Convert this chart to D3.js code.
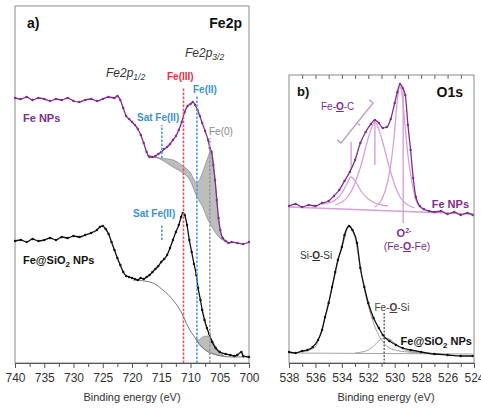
<!DOCTYPE html>
<html>
<head>
<meta charset="utf-8">
<script src="https://cdn.jsdelivr.net/npm/d3@7"></script>
<style>
  body { margin: 0; background: #fff; }
  svg { display: block; font-family: "Liberation Sans", Arial, sans-serif; }
</style>
</head>
<body>
<div id="chart"></div>
<script>
// ---- data: [binding energy (eV), intensity (a.u.)] ----
// panel a, Fe2p
const fe2pFeNPs = [[740,265],[739,264],[738,266],[737,263],[736,265],[735,264],[734,262],[733,264],[732,263],[731,265],[730,262],[729,261],[728,263],[727,264],[726,262],[725,264],[724,266],[723,265],[722.5,267],[722,263],[721.5,255],[721,247],[720.5,244],[720,241],[719.5,238],[719,234],[718.5,228],[718,220],[717.5,211],[717,206],[716.5,206],[716,207],[715.5,209],[715,211],[714.5,214],[714,216],[713.5,219],[713,223],[712.5,227],[712,233],[711.5,241],[711,251],[710.5,257],[710,259],[709.6,261],[709.2,258],[708.8,253],[708.4,247],[708,240],[707.5,232],[707,223],[706.7,215],[706.4,211],[706.1,198],[705.8,183],[705.5,163],[705.2,145],[704.9,133],[704.5,125],[704,122],[703.5,120],[703,121],[702,120],[701,119],[700,121]];
const fe2pFeNPsFill = [[717.4,208,207],[715.2,205,204],[713.0,203,196],[711.3,197,190],[710.1,191,183],[708.9,180,166],[707.9,191,156],[707.0,206,143],[706.5,213,138],[705.8,183,131],[705.0,133,125],[704.1,123,122],[703.2,120,120]];

const fe2pFeSiO2 = [[740,122],[739,123],[738,121],[737,124],[736,122],[735,123],[734,125],[733,123],[732,126],[731,125],[730,127],[729,126],[728,128],[727,130],[726,133],[725.5,136],[725,137],[724.5,134],[724,129],[723.5,121],[723,113],[722.5,105],[722,98],[721.5,91],[721,87],[720.5,86],[720,85],[719.5,84],[719,83],[718.5,85],[718,84],[717.5,86],[717,88],[716.5,91],[716,94],[715.5,97],[715,101],[714.5,104],[714,108],[713.5,115],[713,123],[712.5,131],[712,138],[711.6,146],[711.3,150],[711,148],[710.6,138],[710.2,123],[709.8,111],[709.4,99],[709,88],[708.7,75],[708.3,63],[708,53],[707.6,43],[707.2,35],[706.8,29],[706.3,21],[705.7,15],[705,11],[704,9],[703.2,8],[702.5,7],[702,8],[701.3,11],[701,7],[700,6]];
const fe2pFeSiO2Bg = [[719.8,83],[716.9,81],[714.7,73],[713.0,63],[711.5,50],[710.4,36],[709.2,25],[707.9,15],[705.5,8],[702.7,6],[700,6]];
const fe2pFeSiO2Fill = [[709.2,25,25],[708.7,23,20],[707.9,26,15],[707.0,27,12],[706.3,23,10],[705.5,14,8],[704.4,8,7]];

// reference lines: [energy, from, to, colour key]
const fe2pMarkers = [[711.2,0,276,"red"],[708.9,0,267,"blue"],[706.7,0,225,"gray"],[714.9,205,238,"blue"],[714.9,123,138,"blue"]];
const fe2pTicks = [740,735,730,725,720,715,710,705,700];

// panel b, O1s
const o1sFeNPs = [[538,157],[537.5,159],[537,156],[536.5,158],[536,157],[535.5,160],[535,162],[534.6,167],[534.2,173],[533.8,182],[533.4,191],[533,203],[532.6,220],[532.2,231],[531.8,239],[531.5,243],[531.2,240],[530.9,235],[530.6,236],[530.3,244],[530,260],[529.8,271],[529.6,279],[529.4,275],[529.2,268],[529,238],[528.8,213],[528.6,185],[528.4,166],[528.1,157],[527.8,154],[527.4,152],[527,151],[526.5,152],[526,149],[525.5,151],[525,148],[524.5,150],[524.1,148]];
const o1sFeNPsC1 = [[535.5,159],[535,160],[534.5,163],[534,170],[533.7,177],[533.3,186],[532.9,180],[532.5,171],[532,164],[531.5,160],[531,158],[530.5,157]];
const o1sFeNPsC2 = [[534.5,158],[534,161],[533.5,167],[533,180],[532.5,200],[532,225],[531.5,241],[531,225],[530.5,200],[530,178],[529.5,164],[529,158],[528.5,155]];
const o1sFeNPsC3 = [[531.5,156],[531,163],[530.5,183],[530.2,208],[530,233],[529.8,263],[529.6,277],[529.4,263],[529.2,235],[529,208],[528.7,181],[528.4,163],[528,155],[527.5,152]];
const o1sFeNPsBg = [[538,156],[524.1,149]];

const o1sFeSiO2 = [[538,11],[537.5,10],[537,12],[536.6,13],[536.2,16],[535.8,23],[535.5,33],[535.27,46],[535,60],[534.74,76],[534.5,91],[534.3,103],[534,116],[533.8,128],[533.45,137],[533.2,133],[532.85,120],[532.6,95],[532.3,76],[532,60],[531.6,45],[531.2,35],[530.9,28],[530.4,22],[529.9,18],[529.4,15],[528.8,13],[528,11],[527,9],[526,8],[525,7],[524.1,7]];
const o1sSiOSi = [[537,11],[536,16],[535.8,22],[535.27,45],[534.74,75],[534.3,102],[534,115],[533.45,136],[533,125],[532.6,95],[532.2,68],[531.8,48],[531.4,33],[531,23],[530.5,16],[530,13],[529,11],[528,10]];
const o1sFeOSi = [[533,10],[532.5,11],[532,13],[531.6,17],[531.2,22],[530.8,25],[530.4,24],[530,20],[529.6,16],[529.2,13],[528.6,11],[528,10]];
const o1sFeSiO2Bg = [[538,10],[524.1,9]];

const o1sMarkers = [[533.3,193,221],[531.5,198,243],[529.36,140,275]];
const o1sBracket = [[534.06,220],[531.64,260]];
const o1sTicks = [538,536,534,532,530,528,526,524];

// ---- drawing ----
const W = 481, H = 408;
const purple = "#7e2f8e", pink = "#d7a0d7";
const colours = {red: "#f0505a", blue: "#4f9be6", gray: "#999999"};

const svg = d3.select("#chart").append("svg").attr("width", W).attr("height", H);

const xa = d3.scaleLinear().domain([740, 700]).range([15, 249]);
const ya = d3.scaleLinear().domain([0, 357]).range([363, 6]);
const xb = d3.scaleLinear().domain([538, 524]).range([289, 474]);
const yb = d3.scaleLinear().domain([0, 288]).range([363, 75]);

function lineOf(x, y) {
  return d3.line().x(d => x(d[0])).y(d => y(d[1])).curve(d3.curveMonotoneX);
}

function panelFrame(x, y) {
  svg.append("rect")
    .attr("x", x.range()[0]).attr("y", y.range()[1])
    .attr("width", x.range()[1] - x.range()[0])
    .attr("height", y.range()[0] - y.range()[1])
    .attr("fill", "none").attr("stroke", "#8a8a8a").attr("stroke-width", 1);
}

function bottomAxis(x, y, major, minor) {
  const g = svg.append("g").attr("transform", `translate(0,${y.range()[0]})`);
  g.call(d3.axisBottom(x).tickValues(minor).tickSize(4).tickFormat(""));
  const m = svg.append("g").attr("transform", `translate(0,${y.range()[0]})`)
    .call(d3.axisBottom(x).tickValues(major).tickSize(5).tickPadding(5).tickFormat(d3.format("d")));
  [g, m].forEach(s => {
    s.select(".domain").attr("stroke", "#555");
    s.selectAll(".tick line").attr("stroke", "#555");
  });
  m.selectAll("text").attr("font-size", 12).attr("fill", "#333")
    .attr("font-family", "'Liberation Sans', Arial, sans-serif");
}

function dataCurve(data, x, y, colour) {
  svg.append("path").datum(data).attr("d", lineOf(x, y)(data))
    .attr("fill", "none").attr("stroke", colour).attr("stroke-width", 1.3);
  svg.append("g").selectAll("circle").data(data).join("circle")
    .attr("cx", d => x(d[0])).attr("cy", d => y(d[1])).attr("r", 1.2)
    .attr("fill", colour);
}

function thinCurve(data, x, y, colour, w) {
  svg.append("path").attr("d", lineOf(x, y)(data))
    .attr("fill", "none").attr("stroke", colour).attr("stroke-width", w || 1);
}

function band(data, x, y) {
  const area = d3.area().x(d => x(d[0])).y0(d => y(d[2])).y1(d => y(d[1])).curve(d3.curveMonotoneX);
  svg.append("path").attr("d", area(data))
    .attr("fill", "#bdbdbd").attr("stroke", "#8d8d8d").attr("stroke-width", 0.8);
}

function label(x, y, text, opts) {
  const o = opts || {};
  return svg.append("text").attr("x", x).attr("y", y)
    .attr("font-size", o.size || 10)
    .attr("font-weight", o.bold ? "bold" : "normal")
    .attr("font-style", o.italic ? "italic" : "normal")
    .attr("text-anchor", o.anchor || "start")
    .attr("fill", o.fill || "#333")
    .text(text);
}

function underlinedO(parent, before, after) {
  parent.append("tspan").text(before);
  parent.append("tspan").attr("font-weight", "bold").attr("text-decoration", "underline").text("O");
  parent.append("tspan").text(after);
}

// panel a
panelFrame(xa, ya);
band(fe2pFeNPsFill, xa, ya);
band(fe2pFeSiO2Fill, xa, ya);
thinCurve(fe2pFeSiO2Bg, xa, ya, "#7a7a7a", 1);

dataCurve(fe2pFeNPs, xa, ya, purple);
dataCurve(fe2pFeSiO2, xa, ya, "#111");

// dashed guides, drawn a bit wide so their colour survives
fe2pMarkers.forEach(m => {
  svg.append("line")
    .attr("x1", xa(m[0])).attr("x2", xa(m[0]))
    .attr("y1", ya(m[1])).attr("y2", ya(m[2]))
    .attr("stroke", colours[m[3]]).attr("stroke-width", 1.6)
    .attr("stroke-dasharray", "2.5,1.5");
});

bottomAxis(xa, ya, fe2pTicks, d3.range(737.5, 700, -5));

label(27, 28, "a)", {size: 14, bold: true, fill: "#111"});
label(242, 28, "Fe2p", {size: 14, bold: true, anchor: "end", fill: "#111"});
const t32 = label(185, 57, "Fe2p", {size: 12, italic: true});
t32.append("tspan").attr("dy", 3).attr("font-size", 8.5).text("3/2");
const t12 = label(106, 77, "Fe2p", {size: 12, italic: true});
t12.append("tspan").attr("dy", 3).attr("font-size", 8.5).text("1/2");
label(167, 80, "Fe(III)", {bold: true, fill: "#e8333e"});
label(193, 93, "Fe(II)", {bold: true, fill: "#3d8fe0"});
label(137, 121, "Sat Fe(II)", {bold: true, fill: "#3d8fe0"});
label(209, 135, "Fe(0)", {fill: "#8a8a8a"});
label(23, 122, "Fe NPs", {size: 11, bold: true, fill: purple});
label(133, 217, "Sat Fe(II)", {bold: true, fill: "#3d8fe0"});
const fs = label(23, 264, "Fe@SiO", {size: 11, bold: true, fill: "#111"});
fs.append("tspan").attr("dy", 3).attr("font-size", 8).text("2");
fs.append("tspan").attr("dy", -3).text(" NPs");
label(132, 401, "Binding energy (eV)", {size: 11, anchor: "middle"});

// panel b
panelFrame(xb, yb);
svg.append("g").attr("transform", `translate(0,${yb.range()[1]})`)
  .call(d3.axisBottom(xb).tickValues(d3.range(537, 524, -1)).tickSize(4).tickFormat(""))
  .call(g => g.select(".domain").remove())
  .call(g => g.selectAll(".tick line").attr("stroke", "#666"));

thinCurve(o1sFeNPsBg, xb, yb, pink, 1.3);
thinCurve(o1sFeNPsC1, xb, yb, pink, 1.3);
thinCurve(o1sFeNPsC2, xb, yb, pink, 1.3);
thinCurve(o1sFeNPsC3, xb, yb, pink, 1.3);
o1sMarkers.forEach(m => {
  svg.append("line")
    .attr("x1", xb(m[0])).attr("x2", xb(m[0]))
    .attr("y1", yb(m[1])).attr("y2", yb(m[2]))
    .attr("stroke", pink).attr("stroke-width", 1.4);
});
// bracket over the Fe-O-C components
{
  const [p, q] = o1sBracket.map(d => [xb(d[0]), yb(d[1])]);
  const dx = q[0] - p[0], dy = q[1] - p[1], len = Math.hypot(dx, dy);
  const nx = -dy / len * 5, ny = dx / len * 5;
  const mid = [(p[0] + q[0]) / 2, (p[1] + q[1]) / 2];
  const path = d3.path();
  path.moveTo(p[0] - nx, p[1] - ny); path.lineTo(p[0], p[1]);
  path.lineTo(q[0], q[1]); path.lineTo(q[0] - nx, q[1] - ny);
  path.moveTo(mid[0], mid[1]); path.lineTo(mid[0] + nx * 0.8, mid[1] + ny * 0.8);
  svg.append("path").attr("d", path.toString())
    .attr("fill", "none").attr("stroke", "#c49cc4").attr("stroke-width", 1.3);
}

thinCurve(o1sFeSiO2Bg, xb, yb, "#9a9a9a", 0.9);
thinCurve(o1sSiOSi, xb, yb, "#9a9a9a", 0.9);
thinCurve(o1sFeOSi, xb, yb, "#9a9a9a", 0.9);

dataCurve(o1sFeNPs, xb, yb, purple);
dataCurve(o1sFeSiO2, xb, yb, "#111");

svg.append("line")
  .attr("x1", xb(530.8)).attr("x2", xb(530.8))
  .attr("y1", yb(50)).attr("y2", yb(0))
  .attr("stroke", "#222").attr("stroke-width", 1).attr("stroke-dasharray", "2,1.5");

bottomAxis(xb, yb, o1sTicks, d3.range(537, 524, -2));

label(297, 96, "b)", {size: 13, bold: true, fill: "#111"});
label(463, 97, "O1s", {size: 14, bold: true, anchor: "end", fill: "#111"});

underlinedO(svg.append("text").attr("x", 321).attr("y", 110).attr("font-size", 10).attr("fill", purple), "Fe-", "-C");
label(469, 208, "Fe NPs", {size: 11, bold: true, anchor: "end", fill: purple});
const o2 = label(404, 237, "O", {size: 11, bold: true, anchor: "middle", fill: purple});
o2.append("tspan").attr("dy", -4).attr("font-size", 7).text("2-");
underlinedO(svg.append("text").attr("x", 407).attr("y", 250).attr("font-size", 10.5)
  .attr("text-anchor", "middle").attr("fill", purple), "(Fe-", "-Fe)");
underlinedO(svg.append("text").attr("x", 300).attr("y", 259).attr("font-size", 10).attr("fill", "#333"), "Si-", "-Si");
underlinedO(svg.append("text").attr("x", 392).attr("y", 311).attr("font-size", 10)
  .attr("text-anchor", "middle").attr("fill", "#444"), "Fe-", "-Si");
const fs2 = label(472, 345, "Fe@SiO", {size: 11, bold: true, anchor: "end", fill: "#111"});
fs2.append("tspan").attr("dy", 3).attr("font-size", 8).text("2");
fs2.append("tspan").attr("dy", -3).text(" NPs");
label(386, 401, "Binding energy (eV)", {size: 11, anchor: "middle"});
</script>
</body>
</html>
